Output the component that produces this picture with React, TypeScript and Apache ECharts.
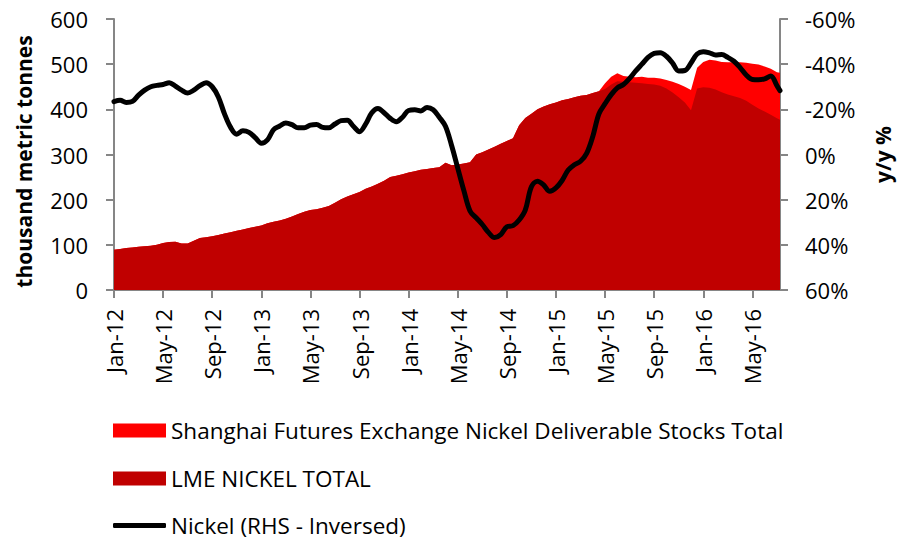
import React, { useEffect, useRef } from "react";
import * as echarts from "echarts";

// Sample months since Jan-2012 (semi-monthly samples, last one at the data end)
const STEP = 0.5;
const LAST_MONTH = 54.25;

// LME nickel total stocks (thousand tonnes), semi-monthly from Jan-12
const lmeStocks = [
  89, 91, 93, 94, 96, 97, 98, 100, 104, 106, 107, 103, 103, 109, 115, 117,
  119, 122, 125, 128, 131, 134, 137, 140, 143, 148, 151, 154, 158, 163, 168, 173,
  177, 179, 182, 186, 193, 201, 207, 212, 217, 224, 229, 235, 242, 250, 253, 256,
  260, 263, 266, 268, 270, 272, 282, 276, 278, 280, 283, 300, 305, 311, 317, 324,
  330, 336, 365, 381, 390, 400, 406, 411, 415, 420, 423, 427, 430, 432, 436, 440,
  445, 455, 462, 461, 460, 459, 458, 456, 455, 452, 446, 437, 427, 415, 398, 446,
  449, 448, 444, 438, 433, 429, 425, 419, 410, 402, 395, 388, 380, 377,
];

// Shanghai Futures Exchange nickel deliverable stocks (thousand tonnes)
const shfeStocks = [
  0, 0, 0, 0, 0, 0, 0, 0, 0, 0, 0, 0, 0, 0, 0, 0,
  0, 0, 0, 0, 0, 0, 0, 0, 0, 0, 0, 0, 0, 0, 0, 0,
  0, 0, 0, 0, 0, 0, 0, 0, 0, 0, 0, 0, 0, 0, 0, 0,
  0, 0, 0, 0, 0, 0, 0, 0, 0, 0, 0, 0, 0, 0, 0, 0,
  0, 0, 0, 0, 0, 0, 0, 0, 0, 0, 0, 0, 0, 0, 0, 0,
  13, 17, 18, 13, 12, 12, 14, 14, 15, 16, 19, 24, 29, 35, 45, 46,
  56, 62, 64, 67, 71, 75, 79, 84, 91, 97, 100, 102, 102, 104,
];

// Nickel price y/y % (plotted on inversed right axis)
const nickelYoY = [
  -23.4, -24, -23, -23.5, -26.3, -28.5, -30, -30.6, -31, -31.8, -30.3, -28.5, -27.2, -28.5, -30.5, -31.8,
  -30, -25.5, -18, -12, -9, -10.5, -9.8, -7.5, -5, -6.5, -11, -12.6, -14, -13.2, -11.8, -11.8,
  -13, -13.3, -12, -11.8, -13.5, -15, -15.2, -12.5, -10.1, -13.5, -18.5, -20.4, -18.5, -16, -14.5, -16.5,
  -19.5, -19.8, -19.3, -20.8, -19.8, -16.5, -12.5, -4, 6, 16, 25, 28, 31, 34.5, 36.8, 35.5,
  32, 31.5, 29, 24.6, 14.3, 11.8, 13.5, 16.3, 14.8, 11.5, 6.9, 4.5, 3, -0.5, -8, -18,
  -22.5, -26.5, -29.5, -31, -33.7, -37, -40, -43, -44.8, -45.1, -43.5, -40.5, -37, -37.2, -40.5, -44.5,
  -45.5, -45, -44.1, -44.3, -43, -41.3, -38.5, -35.2, -33.2, -33.1, -33.5, -34.8, -30.5, -28.3,
];

const tickLabels = [
  "Jan-12", "May-12", "Sep-12", "Jan-13", "May-13", "Sep-13", "Jan-14",
  "May-14", "Sep-14", "Jan-15", "May-15", "Sep-15", "Jan-16", "May-16",
];

const SHFE_NAME = "Shanghai Futures Exchange Nickel Deliverable Stocks Total";
const LME_NAME = "LME NICKEL TOTAL";
const NICKEL_NAME = "Nickel (RHS - Inversed)";

const FONT = "Open Sans";

function monthAt(i: number, n: number) {
  return i === n - 1 ? LAST_MONTH : i * STEP;
}

function legendFor(name: string, top: number, icon: string, itemHeight: number) {
  return {
    orient: "vertical",
    left: 113,
    top,
    padding: 0,
    itemWidth: 53,
    itemHeight,
    selectedMode: false,
    textStyle: { fontSize: 22.5, lineHeight: 20, color: "#000", fontFamily: FONT },
    data: [{ name, icon }],
  };
}

export default function App() {
  const ref = useRef<HTMLDivElement>(null);
  useEffect(() => {
    if (!ref.current) return;
    const chart = echarts.init(ref.current, undefined, { renderer: "svg" });
    const n = lmeStocks.length;
    const lmeData = lmeStocks.map((v, i) => [monthAt(i, n), v]);
    const totalData = lmeStocks.map((v, i) => [monthAt(i, n), v + shfeStocks[i]]);
    const nickelData = nickelYoY.map((v, i) => [monthAt(i, nickelYoY.length), v]);
    const axisGray = "#868686";
    chart.setOption({
      animation: false,
      textStyle: { fontFamily: FONT },
      grid: {
        left: 114,
        right: 118,
        top: 19,
        bottom: 251,
        containLabel: false,
        outerBoundsMode: "none",
      },
      legend: [
        legendFor(SHFE_NAME, 419, "rect", 14),
        legendFor(LME_NAME, 467, "rect", 14),
        legendFor(NICKEL_NAME, 514, "roundRect", 5),
      ],
      xAxis: {
        type: "value",
        min: 0,
        max: LAST_MONTH,
        interval: 4,
        splitLine: { show: false },
        axisLine: { lineStyle: { color: axisGray, width: 2 } },
        axisTick: { show: true, length: 8, lineStyle: { color: axisGray, width: 2 } },
        axisLabel: {
          rotate: 90,
          margin: 19,
          fontSize: 22,
          color: "#000",
          fontFamily: FONT,
          showMaxLabel: false,
          formatter: (v: number) => {
            const k = Math.round(v / 4);
            return Math.abs(v - k * 4) < 1e-6 && tickLabels[k] ? tickLabels[k] : "";
          },
        },
      },
      yAxis: [
        {
          type: "value",
          min: 0,
          max: 600,
          interval: 100,
          position: "left",
          name: "thousand metric tonnes",
          nameLocation: "middle",
          nameGap: 80,
          nameRotate: 90,
          nameTextStyle: {
            fontSize: 21,
            fontWeight: "bold",
            color: "#000",
            fontFamily: FONT,
            padding: [0, 14, 0, 0],
          },
          splitLine: { show: false },
          axisLine: { show: true, lineStyle: { color: axisGray, width: 2 } },
          axisTick: { show: true, length: 8, lineStyle: { color: axisGray, width: 2 } },
          axisLabel: { fontSize: 22, color: "#000", margin: 26, fontFamily: FONT },
        },
        {
          type: "value",
          min: -60,
          max: 60,
          interval: 20,
          inverse: true,
          position: "right",
          name: "y/y %",
          nameLocation: "middle",
          nameGap: 95,
          nameRotate: 90,
          nameTextStyle: {
            fontSize: 21,
            lineHeight: 16,
            fontWeight: "bold",
            color: "#000",
            fontFamily: FONT,
          },
          splitLine: { show: false },
          axisLine: { show: true, lineStyle: { color: axisGray, width: 2 } },
          axisTick: { show: true, length: 8, lineStyle: { color: axisGray, width: 2 } },
          axisLabel: {
            fontSize: 22,
            color: "#000",
            margin: 25,
            fontFamily: FONT,
            formatter: (v: number) => `${v}%`,
          },
        },
      ],
      series: [
        {
          name: SHFE_NAME,
          type: "line",
          data: totalData,
          symbol: "none",
          lineStyle: { width: 0, color: "#FF0000" },
          itemStyle: { color: "#FF0000" },
          areaStyle: { color: "#FF0000", opacity: 1 },
          z: 1,
        },
        {
          name: LME_NAME,
          type: "line",
          data: lmeData,
          symbol: "none",
          lineStyle: { width: 0, color: "#C00000" },
          itemStyle: { color: "#C00000" },
          areaStyle: { color: "#C00000", opacity: 1 },
          z: 2,
        },
        {
          name: NICKEL_NAME,
          type: "line",
          yAxisIndex: 1,
          data: nickelData,
          symbol: "none",
          smooth: 0.35,
          lineStyle: { width: 5, color: "#000", cap: "round", join: "round" },
          itemStyle: { color: "#000" },
          z: 3,
        },
      ],
    });
    return () => chart.dispose();
  }, []);
  return <div ref={ref} style={{ width: 898, height: 541, position: "absolute", left: 0, top: 0 }} />;
}
